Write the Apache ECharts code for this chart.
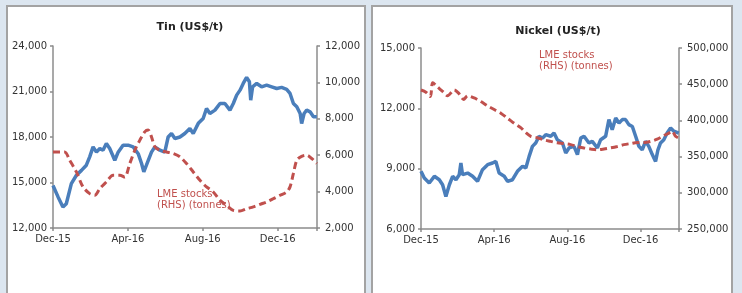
<!DOCTYPE html>
<html>
<head>
<meta charset="utf-8">
<script src="https://cdn.jsdelivr.net/npm/echarts@6/dist/echarts.min.js"></script>
<style>
  html, body { margin: 0; padding: 0; }
  body { width: 742px; height: 293px; background: #dce6f0; position: relative; overflow: hidden; }
  .panel { position: absolute; top: 5px; height: 300px; background: #fff; border: 2px solid #a3a3a3; box-sizing: border-box; }
  #chart { position: absolute; left: 0; top: 0; width: 742px; height: 293px; }
</style>
</head>
<body>
<div class="panel" style="left:6px; width:360px;"></div>
<div class="panel" style="left:371px; width:362px;"></div>
<div id="chart"></div>
<script>
// x positions are months since Dec-15
var monthLabels = { 0: 'Dec-15', 4: 'Apr-16', 8: 'Aug-16', 12: 'Dec-16' };

var tinPriceMonths = [0, 0.27, 0.53, 0.71, 0.98, 1.25, 1.52, 1.78, 1.96, 2.14, 2.32, 2.5, 2.67, 2.85, 3.03, 3.3, 3.48, 3.74, 4.01, 4.28, 4.55, 4.73, 4.85, 4.99, 5.26, 5.44, 5.71, 5.97, 6.15, 6.33, 6.51, 6.78, 7.04, 7.31, 7.49, 7.76, 8.02, 8.2, 8.38, 8.65, 8.92, 9.18, 9.45, 9.63, 9.81, 9.99, 10.16, 10.34, 10.49, 10.56, 10.66, 10.88, 11.14, 11.41, 11.68, 11.95, 12.21, 12.48, 12.66, 12.84, 13.02, 13.2, 13.28, 13.41, 13.55, 13.73, 13.91, 14.09];
var tinPrice = [14800, 14050, 13380, 13600, 14930, 15480, 15800, 16140, 16690, 17350, 17000, 17240, 17130, 17570, 17240, 16470, 17000, 17460, 17460, 17350, 16900, 16250, 15700, 16140, 17000, 17350, 17130, 17000, 18000, 18230, 17900, 18000, 18230, 18560, 18230, 18900, 19220, 19880, 19550, 19770, 20210, 20210, 19770, 20210, 20760, 21090, 21530, 21930, 21640, 20430, 21310, 21530, 21310, 21420, 21310, 21200, 21270, 21140, 20870, 20210, 19990, 19550, 18890, 19550, 19770, 19660, 19330, 19330];

var tinStockMonths = [0, 0.62, 0.89, 1.25, 1.6, 1.96, 2.23, 2.5, 2.85, 3.21, 3.57, 3.83, 4.1, 4.37, 4.64, 4.9, 5.08, 5.26, 5.44, 5.71, 6.06, 6.42, 6.78, 7.13, 7.49, 7.85, 8.2, 8.56, 8.92, 9.27, 9.63, 9.99, 10.34, 10.7, 11.06, 11.41, 11.77, 12.13, 12.48, 12.66, 12.84, 13.02, 13.28, 13.55, 13.82, 14.09];
var tinStocks = [6180, 6180, 5725, 5080, 4260, 3890, 3800, 4165, 4530, 4900, 4900, 4800, 5540, 6270, 6830, 7280, 7380, 7010, 6460, 6270, 6180, 6090, 5910, 5540, 5080, 4620, 4260, 3980, 3520, 3250, 2970, 2940, 3060, 3160, 3300, 3430, 3610, 3800, 3980, 4260, 5000, 5720, 5940, 6000, 5820, 5540];

var nickelPriceMonths = [0, 0.18, 0.45, 0.73, 1, 1.18, 1.36, 1.55, 1.73, 1.91, 2.09, 2.18, 2.27, 2.55, 2.82, 3.09, 3.36, 3.64, 3.91, 4.09, 4.27, 4.55, 4.73, 5, 5.27, 5.55, 5.73, 5.91, 6.09, 6.27, 6.45, 6.64, 6.82, 7.09, 7.27, 7.45, 7.73, 7.91, 8.09, 8.36, 8.55, 8.73, 8.91, 9.18, 9.36, 9.64, 9.82, 10.09, 10.27, 10.45, 10.64, 10.82, 11, 11.18, 11.36, 11.55, 11.73, 11.91, 12.09, 12.27, 12.45, 12.64, 12.82, 12.95, 13.09, 13.27, 13.45, 13.64, 13.82, 14.09];
var nickelPrice = [8870, 8535, 8290, 8620, 8450, 8200, 7620, 8200, 8620, 8450, 8700, 9280, 8700, 8780, 8620, 8370, 8950, 9200, 9280, 9360, 8780, 8620, 8370, 8450, 8870, 9120, 9030, 9610, 10110, 10280, 10610, 10520, 10690, 10610, 10770, 10440, 10280, 9780, 10030, 10110, 9700, 10520, 10610, 10280, 10360, 10030, 10440, 10610, 11440, 10940, 11520, 11270, 11440, 11440, 11190, 11100, 10610, 10110, 9940, 10360, 10110, 9700, 9360, 9940, 10280, 10440, 10770, 11020, 10860, 10770];

var nickelStockMonths = [0, 0.27, 0.51, 0.64, 0.91, 1.18, 1.45, 1.82, 2.04, 2.33, 2.55, 2.91, 3.27, 3.64, 4, 4.36, 4.73, 5.09, 5.45, 5.73, 6, 6.36, 6.73, 7.09, 7.45, 7.82, 8.18, 8.55, 8.91, 9.27, 9.64, 10, 10.36, 10.73, 11.09, 11.45, 11.82, 12.18, 12.55, 12.91, 13.27, 13.55, 13.73, 13.91, 14.09];
var nickelStocks = [442000, 439000, 433000, 452000, 446000, 440000, 434000, 442000, 438000, 429000, 434000, 431000, 426000, 420000, 415000, 410000, 403000, 396000, 390000, 383000, 378000, 376000, 373000, 371000, 369000, 368000, 366500, 364000, 362000, 360500, 359500, 360500, 362000, 364000, 366500, 368000, 369500, 369500, 371000, 374000, 379000, 382500, 385000, 378000, 375500];

function pairs(xs, ys) {
  return xs.map(function (x, i) { return [x, ys[i]]; });
}

var FONT = 'DejaVu Sans';
var BLUE = '#4a7ebb';
var RED = '#c0504d';
var AXIS = '#8c8c8c';

function fmt(v) { return v.toLocaleString('en-US'); }

function xAxis(grid) {
  return {
    type: 'value', gridIndex: grid, min: 0, max: 14.1, interval: 4,
    axisLine: { lineStyle: { color: AXIS, width: 1.5 } },
    axisTick: { show: true, length: 3, lineStyle: { color: AXIS, width: 1.5 } },
    splitLine: { show: false },
    axisLabel: {
      color: '#333', fontFamily: FONT, fontSize: 10, margin: 6,
      formatter: function (v) { return monthLabels[v] || ''; }
    }
  };
}

function yAxis(grid, pos, min, max, step, margin) {
  return {
    type: 'value', gridIndex: grid, position: pos, min: min, max: max, interval: step,
    axisLine: { show: true, lineStyle: { color: AXIS, width: 1.5 } },
    axisTick: { show: true, length: 3, lineStyle: { color: AXIS, width: 1.5 } },
    splitLine: { show: false },
    axisLabel: { color: '#333', fontFamily: FONT, fontSize: 10, margin: margin, formatter: fmt }
  };
}

function priceSeries(x, y, data) {
  return {
    type: 'line', xAxisIndex: x, yAxisIndex: y, data: data, showSymbol: false,
    lineStyle: { color: BLUE, width: 3.5 }, animation: false, z: 2
  };
}

function stockSeries(x, y, data) {
  return {
    type: 'line', xAxisIndex: x, yAxisIndex: y, data: data, showSymbol: false, smooth: 0.3,
    lineStyle: { color: RED, width: 3, type: [7, 4] }, animation: false, z: 3
  };
}

var chart = echarts.init(document.getElementById('chart'), null, { renderer: 'canvas' });
chart.setOption({
  backgroundColor: 'transparent',
  animation: false,
  title: [
    { text: 'Tin (US$/t)', left: 185, top: 17, textAlign: 'center',
      textStyle: { fontFamily: FONT, fontSize: 11, fontWeight: 'bold', color: '#222' } },
    { text: 'Nickel (US$/t)', left: 553, top: 21, textAlign: 'center',
      textStyle: { fontFamily: FONT, fontSize: 11, fontWeight: 'bold', color: '#222' } }
  ],
  grid: [
    { left: 53, top: 46, width: 264, height: 182 },
    { left: 421, top: 48, width: 258, height: 181 }
  ],
  xAxis: [xAxis(0), xAxis(1)],
  yAxis: [
    yAxis(0, 'left', 12000, 24000, 3000, 6),
    yAxis(0, 'right', 2000, 12000, 2000, 8),
    yAxis(1, 'left', 6000, 15000, 3000, 6),
    yAxis(1, 'right', 250000, 500000, 50000, 8)
  ],
  graphic: [
    { type: 'text', left: 157, top: 189, z: 10,
      style: { text: 'LME stocks\n(RHS) (tonnes)', fill: RED, font: '10px "DejaVu Sans"', lineHeight: 11 } },
    { type: 'text', left: 539, top: 50, z: 10,
      style: { text: 'LME stocks\n(RHS) (tonnes)', fill: RED, font: '10px "DejaVu Sans"', lineHeight: 11 } }
  ],
  series: [
    priceSeries(0, 0, pairs(tinPriceMonths, tinPrice)),
    stockSeries(0, 1, pairs(tinStockMonths, tinStocks)),
    priceSeries(1, 2, pairs(nickelPriceMonths, nickelPrice)),
    stockSeries(1, 3, pairs(nickelStockMonths, nickelStocks))
  ]
});
</script>
</body>
</html>
